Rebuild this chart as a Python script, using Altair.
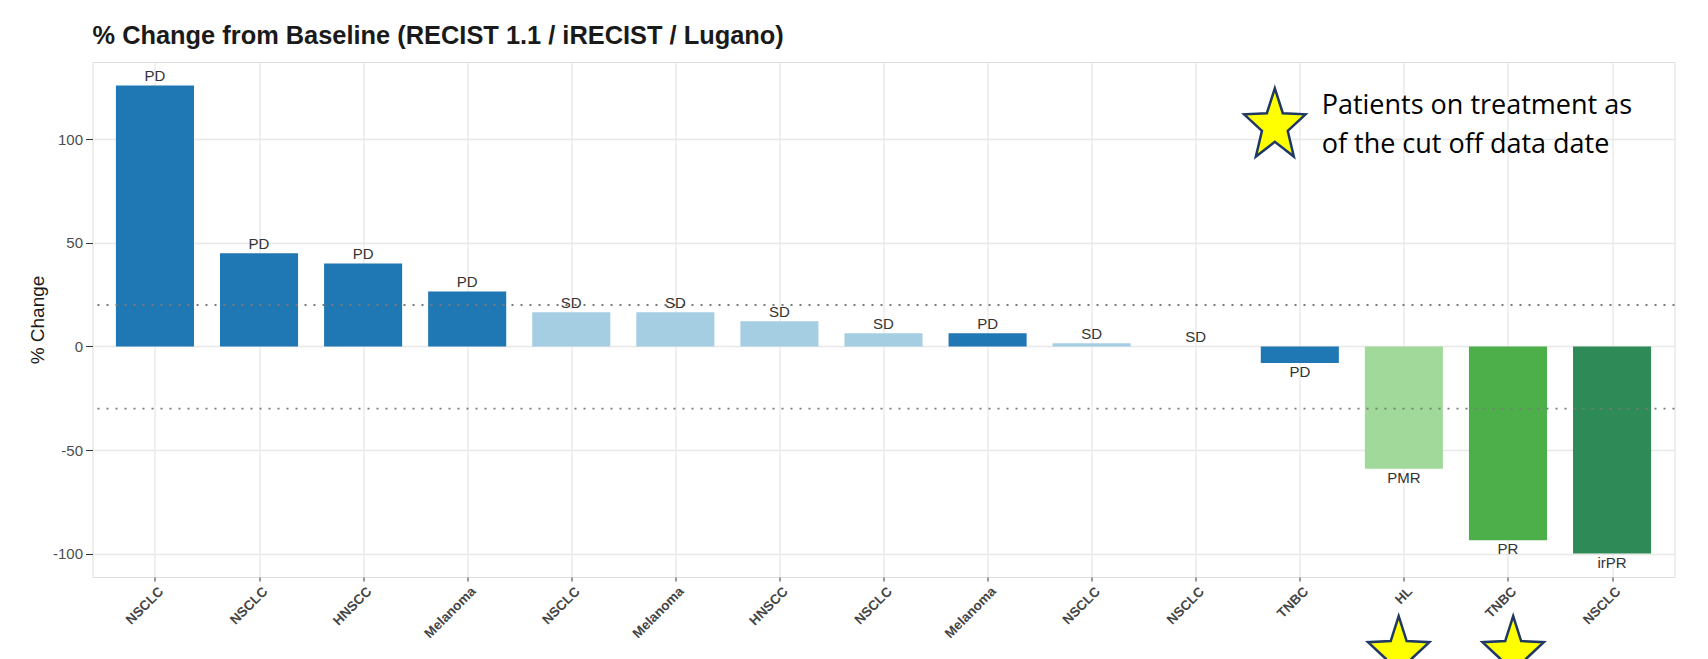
import json
import math
import altair as alt
import pandas as pd

# ---------------- data ----------------
tumor_types = ["NSCLC", "NSCLC", "HNSCC", "Melanoma", "NSCLC", "Melanoma", "HNSCC", "NSCLC",
               "Melanoma", "NSCLC", "NSCLC", "TNBC", "HL", "TNBC", "NSCLC"]
pct_change = [126, 45, 40, 26.5, 16.5, 16.5, 12.2, 6.4, 6.4, 1.5, 0, -8, -59, -93.5, -100]
responses = ["PD", "PD", "PD", "PD", "SD", "SD", "SD", "SD", "PD", "SD", "SD", "PD", "PMR", "PR", "irPR"]
positions = list(range(1, len(tumor_types) + 1))

resp_domain = ["PD", "SD", "PMR", "PR", "irPR"]
resp_colors = ["#1f77b4", "#a6cee3", "#a1d99b", "#4daf4a", "#2e8b57"]

threshold_values = [20, -30]
y_ticks = [-100, -50, 0, 50, 100]

# annotation stars (data units)
ontreat_x = [12.95, 14.05]
ontreat_y = [-148.4, -148.4]
legend_star_x = [11.76]
legend_star_y = [106.4]
legend_text_x = [12.21]
legend_text_y = [112.1]
legend_lines = ["Patients on treatment as", "of the cut off data date"]

df = pd.DataFrame({"pos": positions, "tumor": tumor_types, "value": pct_change, "resp": responses})
rules_df = pd.DataFrame({"y": threshold_values})
stars_df = pd.DataFrame({"x": ontreat_x, "y": ontreat_y})
lstar_df = pd.DataFrame({"x": legend_star_x, "y": legend_star_y})
ltext_df = pd.DataFrame({"x": legend_text_x, "y": legend_text_y, "t": [legend_lines]})

# ---------------- helpers ----------------
def star_path(sx=0.855, inner=0.42):
    pts = []
    for k in range(10):
        ang = -math.pi / 2 + k * math.pi / 5
        r = 1.0 if k % 2 == 0 else inner
        pts.append((sx * r * math.cos(ang), r * math.sin(ang)))
    return "M" + "L".join(f"{x:.4f},{y:.4f}" for x, y in pts) + "Z"

STAR = star_path()
FONT = "Liberation Sans"

xscale = alt.Scale(domain=[0.4, 15.6], nice=False, zero=False)
yscale = alt.Scale(domain=[-111.3, 137.3], nice=False, zero=False)

label_expr = json.dumps(tumor_types) + "[datum.value - 1]"

xaxis = alt.Axis(values=positions, labelExpr=label_expr, labelAngle=-45, labelAlign="right",
                 labelBaseline="top", labelFontSize=13.5, labelFontWeight="bold", labelColor="#444444",
                 labelFont=FONT, tickSize=4, tickColor="#333333", labelPadding=3, labelOffset=1,
                 title=None, domain=False, gridColor="#e8e8e8", gridWidth=1.3,
                 labelOverlap=False, labelFlush=False)
yaxis = alt.Axis(values=y_ticks, labelExpr="toString(datum.value)", title="% Change",
                 titleFontSize=19, titleFontWeight="normal",
                 titleColor="#1a1a1a", titleFont=FONT, labelFont=FONT, labelFontSize=15,
                 labelColor="#4d4d4d", tickColor="#333333", tickSize=7, labelPadding=3,
                 gridColor="#e8e8e8", gridWidth=1.3, domain=False, titlePadding=5)

base = alt.Chart(df)

bars = base.mark_bar().transform_calculate(
    x0="datum.pos - 0.375", x1="datum.pos + 0.375"
).encode(
    x=alt.X("x0:Q", scale=xscale, axis=xaxis),
    x2="x1:Q",
    y=alt.Y("value:Q", scale=yscale, axis=yaxis),
    y2=alt.datum(0),
    color=alt.Color("resp:N", scale=alt.Scale(domain=resp_domain, range=resp_colors), legend=None),
)

pos_labels = base.transform_filter("datum.value >= 0").mark_text(
    dy=-4.5, baseline="alphabetic", fontSize=15, font=FONT, color="#333333"
).encode(x=alt.X("pos:Q", scale=xscale), y=alt.Y("value:Q", scale=yscale), text="resp:N")

neg_labels = base.transform_filter("datum.value < 0").mark_text(
    dy=2, baseline="top", fontSize=15, font=FONT, color="#333333"
).encode(x=alt.X("pos:Q", scale=xscale), y=alt.Y("value:Q", scale=yscale), text="resp:N")

rules = alt.Chart(rules_df).mark_rule(
    strokeDash=[2, 7], color="#7a7a7a", strokeWidth=1.8
).encode(y=alt.Y("y:Q", scale=yscale))

star_kw = dict(shape=STAR, size=5700, filled=True, fill="#ffff00", stroke="#1f3864",
               strokeWidth=2.5, opacity=1, fillOpacity=1, strokeOpacity=1)

bottom_stars = alt.Chart(stars_df).mark_point(**star_kw).encode(
    x=alt.X("x:Q", scale=xscale), y=alt.Y("y:Q", scale=yscale))

legend_star = alt.Chart(lstar_df).mark_point(**star_kw).encode(
    x=alt.X("x:Q", scale=xscale), y=alt.Y("y:Q", scale=yscale))

legend_text = alt.Chart(ltext_df).mark_text(
    align="left", baseline="alphabetic", font="Open Sans", fontSize=27, lineHeight=39, color="#000000"
).encode(x=alt.X("x:Q", scale=xscale), y=alt.Y("y:Q", scale=yscale), text="t")

chart = alt.layer(bars, rules, pos_labels, neg_labels, legend_star, legend_text, bottom_stars).properties(
    width=1582,
    height=515,
    title=alt.TitleParams("% Change from Baseline (RECIST 1.1 / iRECIST / Lugano)", anchor="start",
                          frame="group", fontSize=25.4, font=FONT, fontWeight="bold", color="#1a1a1a",
                          baseline="alphabetic", offset=14, dy=21),
    autosize=alt.AutoSizeParams(type="none"),
    padding={"left": 84.5, "top": 54, "right": 25, "bottom": 125},
).configure_view(stroke="#707070", strokeWidth=1.6).configure(background="white")

chart.save("out.html", embed_options={"renderer": "svg", "actions": False})
